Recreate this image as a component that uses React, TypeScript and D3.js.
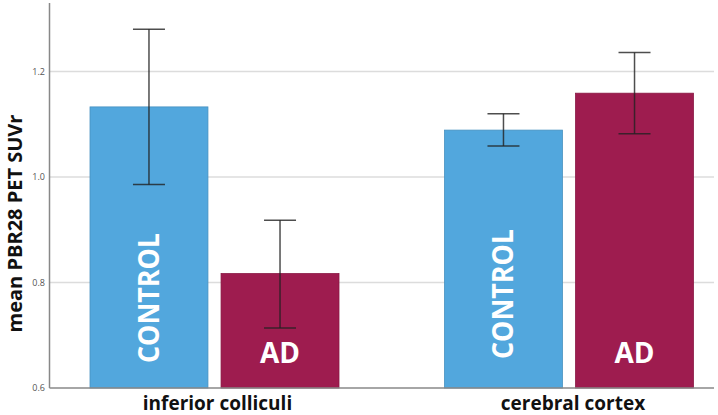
import React from "react";
import * as d3 from "d3";

const regions = ["inferior colliculi", "cerebral cortex"];
const groups = ["CONTROL", "AD"];
const means = [
  [1.133, 0.817],
  [1.089, 1.159],
];
const errLow = [
  [0.986, 0.714],
  [1.059, 1.082],
];
const errHigh = [
  [1.28, 0.918],
  [1.12, 1.236],
];
const yTicks = [0.6, 0.8, 1.0, 1.2];
const colors = ["#52A7DD", "#9E1C4F"];

const W = 718;
const H = 415;

export default function App() {
  const y = d3.scaleLinear().domain([0.6, 1.33]).range([388, 3]);
  const x0 = d3.scalePoint<string>().domain(regions).range([214.5, 569]);
  const x1 = d3
    .scaleBand<string>()
    .domain(groups)
    .range([-124.5, 124.5])
    .paddingInner(0.1)
    .paddingOuter(0);
  const bw = x1.bandwidth();
  const axisX = 49.5;
  const right = 714;

  return (
    <svg
      width={W}
      height={H}
      style={{ position: "absolute", left: 0, top: 0, background: "#fff" }}
      fontFamily="'Open Sans', sans-serif"
    >
      {yTicks.map((t) => (
        <g key={t}>
          {t !== 0.6 && (
            <line
              x1={axisX}
              x2={right}
              y1={y(t)}
              y2={y(t)}
              stroke="#dcdcdc"
              strokeWidth={1.5}
            />
          )}
          <text
            x={45}
            y={y(t)}
            dy="0.35em"
            textAnchor="end"
            fontSize={9}
            fill="#555"
          >
            {d3.format(".1f")(t)}
          </text>
        </g>
      ))}
      {regions.map((r, ri) =>
        groups.map((g, gi) => {
          const bx = (x0(r) as number) + (x1(g) as number);
          const cx = bx + bw / 2;
          const top = y(means[ri][gi]);
          return (
            <g key={r + g}>
              <rect
                x={bx}
                y={top}
                width={bw}
                height={y(0.6) - top}
                fill={colors[gi]}
                stroke={d3.color(colors[gi])!.darker(0.4).toString()}
                strokeWidth={0.8}
              />
              <line
                x1={cx}
                x2={cx}
                y1={y(errHigh[ri][gi])}
                y2={y(errLow[ri][gi])}
                stroke="#222"
                strokeOpacity={0.8}
                strokeWidth={1.5}
              />
              {[errHigh[ri][gi], errLow[ri][gi]].map((v, k) => (
                <line
                  key={k}
                  x1={cx - 16}
                  x2={cx + 16}
                  y1={y(v)}
                  y2={y(v)}
                  stroke="#222"
                  strokeOpacity={0.8}
                  strokeWidth={1.5}
                />
              ))}
              {g === "CONTROL" ? (
                <text
                  transform={`translate(${cx + 10},${ri === 0 ? 363 : 359}) rotate(-90)`}
                  fill="#fff"
                  fontWeight="bold"
                  fontSize={28}
                  textLength={130}
                  lengthAdjust="spacingAndGlyphs"
                >
                  {g}
                </text>
              ) : (
                <text
                  x={cx}
                  y={363}
                  textAnchor="middle"
                  fill="#fff"
                  fontWeight="bold"
                  fontSize={28}
                >
                  {g}
                </text>
              )}
            </g>
          );
        })
      )}
      <line x1={axisX} x2={axisX} y1={3} y2={388} stroke="#888" strokeWidth={1.5} />
      <line x1={axisX} x2={right} y1={388} y2={388} stroke="#888" strokeWidth={1.5} />
      {regions.map((r, ri) => (
        <text
          key={r}
          x={(x0(r) as number) + (ri === 0 ? 3 : 4)}
          y={409.5}
          textAnchor="middle"
          fontWeight="bold"
          fontSize={19}
          fill="#111"
        >
          {r}
        </text>
      ))}
      <text
        transform={`translate(22,223.5) rotate(-90)`}
        textAnchor="middle"
        fontWeight="bold"
        fontSize={20}
        fill="#111"
      >
        mean PBR28 PET SUVr
      </text>
    </svg>
  );
}
